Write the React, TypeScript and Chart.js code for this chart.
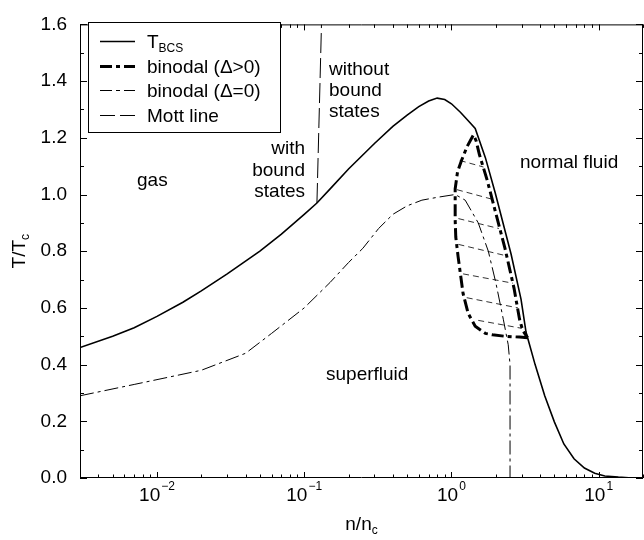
import React, { useEffect, useRef } from 'react';
import { Chart, registerables } from 'chart.js';

Chart.register(...registerables);

// T_BCS curve
const tbcsN = [0.003, 0.005, 0.007, 0.01, 0.015, 0.02, 0.03, 0.05, 0.07, 0.1, 0.122, 0.15, 0.2, 0.3, 0.4, 0.5, 0.6, 0.7, 0.8, 0.9, 1.0, 1.15, 1.3, 1.45, 1.7, 1.98, 2.54, 2.97, 3.21, 3.7, 4.3, 5.0, 5.8, 6.8, 8.0, 9.4, 11, 13.6, 16, 20];
const tbcsT = [0.46, 0.50, 0.53, 0.57, 0.62, 0.66, 0.72, 0.80, 0.86, 0.93, 0.97, 1.02, 1.09, 1.18, 1.24, 1.28, 1.31, 1.33, 1.34, 1.335, 1.32, 1.29, 1.26, 1.233, 1.13, 1.007, 0.79, 0.63, 0.515, 0.40, 0.29, 0.198, 0.12, 0.068, 0.035, 0.017, 0.007, 0.003, 0.001, 0.0];

// binodal (Delta>0): closed loop
const binPosN = [3.29, 2.9, 2.3, 1.9, 1.7, 1.45, 1.3, 1.2, 1.11, 1.07, 1.06, 1.06, 1.1, 1.17, 1.28, 1.41, 1.47, 1.55, 1.75, 2.01, 2.31, 2.66, 2.9, 3.05, 3.29];
const binPosT = [0.495, 0.497, 0.50, 0.505, 0.51, 0.535, 0.58, 0.65, 0.78, 0.85, 0.91, 1.02, 1.08, 1.12, 1.17, 1.21, 1.19, 1.14, 1.05, 0.93, 0.81, 0.67, 0.56, 0.52, 0.495];

// binodal (Delta=0)
const bin0N = [0.003, 0.007, 0.02, 0.04, 0.06, 0.1, 0.15, 0.2, 0.25, 0.32, 0.4, 0.5, 0.63, 0.8, 1.06, 1.24, 1.52, 1.78, 2.0, 2.25, 2.43, 2.5, 2.5];
const bin0T = [0.29, 0.33, 0.38, 0.44, 0.51, 0.60, 0.69, 0.76, 0.81, 0.88, 0.93, 0.96, 0.98, 0.99, 1.0, 0.98, 0.90, 0.80, 0.69, 0.56, 0.47, 0.40, 0.0];

// Mott line
const mottN = [0.122, 0.131];
const mottT = [0.97, 1.6];

// tie lines between binodal branches
const tieLeftN = [1.14, 1.09, 1.115, 1.115, 1.2, 1.27, 1.52];
const tieLeftT = [1.12, 1.017, 0.915, 0.824, 0.72, 0.636, 0.556];
const tieRightN = [1.65, 1.9, 2.1, 2.35, 2.62, 2.83, 3.0];
const tieRightT = [1.097, 0.983, 0.88, 0.784, 0.687, 0.60, 0.528];

const xDecades = [-2, -1, 0, 1];
const FONT = '"Liberation Sans", Arial, Helvetica, sans-serif';

const pts = (ns: number[], ts: number[]) => ns.map((n, i) => ({ x: n, y: ts[i] }));

function tiePoints() {
  const out: { x: number; y: number | null }[] = [];
  tieLeftN.forEach((n, i) => {
    out.push({ x: n, y: tieLeftT[i] });
    out.push({ x: tieRightN[i], y: tieRightT[i] });
    out.push({ x: tieRightN[i], y: null });
  });
  return out;
}

const decorPlugin = {
  id: 'decor',
  afterDraw(chart: any) {
    const ctx = chart.ctx as CanvasRenderingContext2D;
    const xs = chart.scales.x;
    const ys = chart.scales.y;
    const { left, right, top, bottom } = chart.chartArea;
    ctx.save();
    ctx.strokeStyle = '#000';
    ctx.fillStyle = '#000';
    ctx.lineWidth = 1;
    // frame
    ctx.beginPath();
    ctx.moveTo(left + 0.5, top + 0.5);
    ctx.lineTo(right - 0.5, top + 0.5);
    ctx.lineTo(right - 0.5, bottom - 0.5);
    ctx.lineTo(left + 0.5, bottom - 0.5);
    ctx.closePath();
    ctx.stroke();
    // x ticks
    ctx.beginPath();
    for (let d = -3; d <= 1; d++) {
      for (let m = 1; m <= 9; m++) {
        const v = m * Math.pow(10, d);
        if (v < xs.min || v > xs.max) continue;
        const px = Math.round(xs.getPixelForValue(v)) + 0.5;
        const len = m === 1 ? 6 : 3.5;
        ctx.moveTo(px, bottom);
        ctx.lineTo(px, bottom - len);
        ctx.moveTo(px, top);
        ctx.lineTo(px, top + len);
      }
    }
    // y ticks
    for (let i = 0; i <= 16; i++) {
      const py = Math.round(ys.getPixelForValue(i / 10)) + 0.5;
      const len = i % 2 === 0 ? 7 : 4;
      ctx.moveTo(left, py);
      ctx.lineTo(left + len, py);
      ctx.moveTo(right, py);
      ctx.lineTo(right - len, py);
    }
    ctx.stroke();

    // x tick labels with superscripts
    ctx.textBaseline = 'alphabetic';
    xDecades.forEach((d) => {
      const px = xs.getPixelForValue(Math.pow(10, d));
      const base = '10';
      const sup = d < 0 ? '\u2212' + String(-d) : String(d);
      ctx.font = `19px ${FONT}`;
      const wb = ctx.measureText(base).width;
      ctx.font = `12px ${FONT}`;
      const ws = ctx.measureText(sup).width;
      const x0 = px - (wb + ws + 1) / 2;
      ctx.font = `19px ${FONT}`;
      ctx.textAlign = 'left';
      ctx.fillText(base, x0, 501);
      ctx.font = `12px ${FONT}`;
      ctx.fillText(sup, x0 + wb + 1, 490);
    });

    // axis titles
    const cx = (left + right) / 2;
    ctx.font = `19px ${FONT}`;
    const w1 = ctx.measureText('n/n').width;
    ctx.font = `12px ${FONT}`;
    const w2 = ctx.measureText('c').width;
    ctx.textAlign = 'left';
    ctx.font = `19px ${FONT}`;
    ctx.fillText('n/n', cx - (w1 + w2) / 2, 530);
    ctx.font = `12px ${FONT}`;
    ctx.fillText('c', cx - (w1 + w2) / 2 + w1, 534);

    ctx.save();
    ctx.translate(25, (top + bottom) / 2);
    ctx.rotate(-Math.PI / 2);
    ctx.font = `19px ${FONT}`;
    const w3 = ctx.measureText('T/T').width;
    ctx.font = `12px ${FONT}`;
    const w4 = ctx.measureText('c').width;
    ctx.font = `19px ${FONT}`;
    ctx.fillText('T/T', -(w3 + w4) / 2, 0);
    ctx.font = `12px ${FONT}`;
    ctx.fillText('c', -(w3 + w4) / 2 + w3, 4);
    ctx.restore();

    // region labels
    ctx.font = `19px ${FONT}`;
    ctx.textAlign = 'left';
    ctx.fillText('gas', 137, 186);
    ctx.fillText('normal fluid', 520, 168);
    ctx.fillText('superfluid', 326, 380);
    ctx.fillText('without', 329, 75);
    ctx.fillText('bound', 329, 96);
    ctx.fillText('states', 329, 117);
    ctx.textAlign = 'right';
    ctx.fillText('with', 305, 154);
    ctx.fillText('bound', 305, 176);
    ctx.fillText('states', 305, 197);

    // legend box
    ctx.fillStyle = '#fff';
    ctx.fillRect(88, 22, 192, 110);
    ctx.strokeStyle = '#000';
    ctx.lineWidth = 1;
    ctx.strokeRect(88.5, 22.5, 192, 110);
    const rows = [
      { y: 41, w: 1.6, dash: [] as number[], label: 'T', sub: 'BCS' },
      { y: 66, w: 3, dash: [12, 4, 4, 4], label: 'binodal (\u0394>0)', sub: '' },
      { y: 90, w: 1, dash: [12, 4, 4, 4], label: 'binodal (\u0394=0)', sub: '' },
      { y: 115, w: 1, dash: [15, 5], label: 'Mott line', sub: '' },
    ];
    rows.forEach((r) => {
      ctx.beginPath();
      ctx.setLineDash(r.dash);
      ctx.lineWidth = r.w;
      ctx.moveTo(100, r.y + 0.5);
      ctx.lineTo(135, r.y + 0.5);
      ctx.stroke();
      ctx.setLineDash([]);
      ctx.fillStyle = '#000';
      ctx.textAlign = 'left';
      ctx.font = `19px ${FONT}`;
      ctx.fillText(r.label, 147, r.y + 7);
      if (r.sub) {
        const wl = ctx.measureText(r.label).width;
        ctx.font = `12px ${FONT}`;
        ctx.fillText(r.sub, 147 + wl, r.y + 11);
      }
    });
    ctx.restore();
  },
};

export default function App() {
  const ref = useRef<HTMLCanvasElement>(null);
  useEffect(() => {
    document.body.style.margin = '0';
    const canvas = ref.current!;
    const chart = new Chart(canvas, {
      type: 'scatter',
      data: {
        datasets: [
          {
            label: 'T_BCS',
            data: pts(tbcsN, tbcsT),
            showLine: true,
            borderColor: '#000',
            borderWidth: 1.6,
            pointRadius: 0,
            tension: 0,
          },
          {
            label: 'binodal (Δ>0)',
            data: pts(binPosN, binPosT),
            showLine: true,
            borderColor: '#000',
            borderWidth: 3,
            borderDash: [12, 4, 4, 4],
            pointRadius: 0,
            tension: 0,
          },
          {
            label: 'binodal (Δ=0)',
            data: pts(bin0N, bin0T),
            showLine: true,
            borderColor: '#000',
            borderWidth: 1,
            borderDash: [14, 4, 3, 4],
            pointRadius: 0,
            tension: 0,
          },
          {
            label: 'Mott line',
            data: pts(mottN, mottT),
            showLine: true,
            borderColor: '#000',
            borderWidth: 1,
            borderDash: [20, 5],
            pointRadius: 0,
          },
          {
            label: 'tie lines',
            data: tiePoints() as any,
            showLine: true,
            spanGaps: false,
            borderColor: '#000',
            borderWidth: 0.8,
            borderDash: [6, 4],
            pointRadius: 0,
          },
        ],
      },
      options: {
        animation: false,
        responsive: false,
        devicePixelRatio: 1,
        layout: { padding: { top: 9, right: 1, left: 0, bottom: 0 } },
        plugins: { legend: { display: false }, tooltip: { enabled: false } },
        scales: {
          x: {
            type: 'logarithmic',
            min: 0.003,
            max: 20,
            grid: { display: false, drawTicks: false },
            border: { display: false },
            ticks: { display: false },
            afterFit: (s: any) => { s.height = 62; },
          },
          y: {
            type: 'linear',
            min: 0,
            max: 1.6,
            grid: { display: false, drawTicks: false },
            border: { display: false },
            ticks: {
              stepSize: 0.2,
              padding: 13,
              color: '#000',
              font: { family: FONT, size: 19 },
              callback: (v: any) => Number(v).toFixed(1),
            },
            afterFit: (s: any) => { s.width = 80; },
          },
        },
      },
      plugins: [decorPlugin],
    });
    return () => chart.destroy();
  }, []);
  return (
    <div style={{ width: 644, height: 540 }}>
      <canvas ref={ref} width={644} height={540} style={{ display: 'block' }} />
    </div>
  );
}
